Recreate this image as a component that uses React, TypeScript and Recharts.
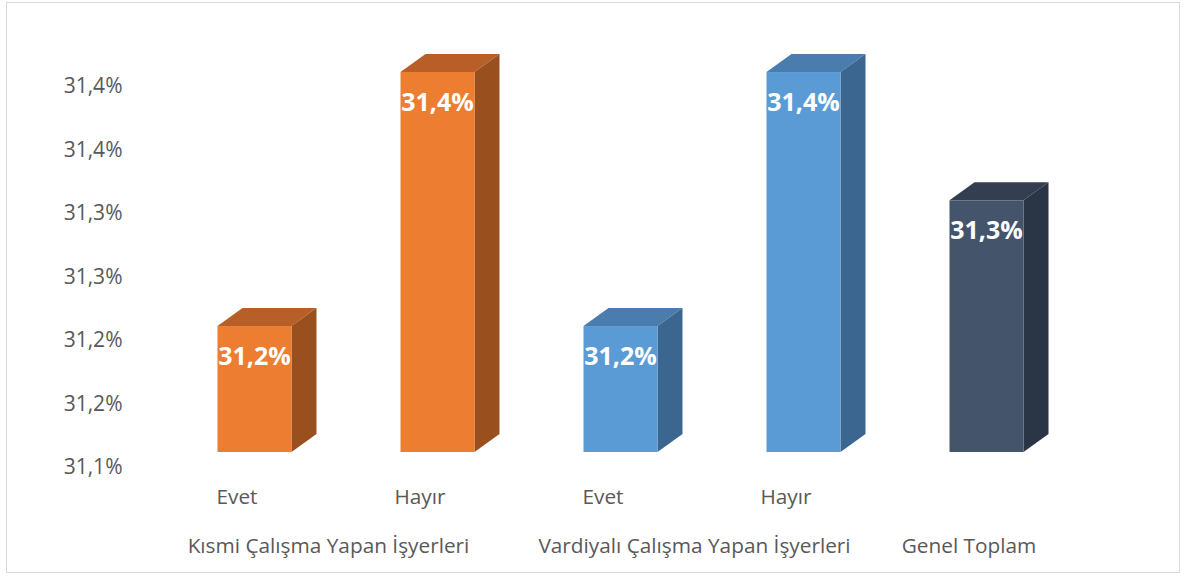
import React from "react";
import { BarChart, Bar, XAxis, YAxis, LabelList } from "recharts";

const categories = ["Evet", "Hayır", "Evet", "Hayır", ""];
const values = [31.211, 31.411, 31.211, 31.411, 31.31];
const groupNames = ["Kısmi Çalışma Yapan İşyerleri", "Vardiyalı Çalışma Yapan İşyerleri", "Genel Toplam"];
const groupSpans = [2, 2, 1];
const yTicks = [31.1, 31.15, 31.2, 31.25, 31.3, 31.35, 31.4];

const data = categories.map((name, i) => ({ name, value: values[i] }));

// face colours: front, top, side
const ORANGE = ["#ED7D31", "#B85F27", "#9A4F1E"];
const BLUE = ["#5B9BD5", "#4A7DAD", "#3B6690"];
const DARK = ["#44546A", "#333F50", "#2A3545"];
const barColors = [ORANGE, ORANGE, BLUE, BLUE, DARK];

const W = 1187;
const H = 578;
const margin = { top: 22.5, right: 126.5, bottom: 0, left: 65.5 };
const Y_AXIS_W = 80;
const X_AXIS_H = 111;
const plotW = W - margin.left - margin.right - Y_AXIS_W;
const band = plotW / categories.length;

// 3D look
const SHIFT = 17;
const DEPTH_X = 25;
const DEPTH_Y = 18;
const FLOOR = 15;

const fmt = (v: number) => {
  const r = Math.round(Math.round(v * 100) / 10) / 10;
  return r.toFixed(1).replace(".", ",") + "%";
};

const groupStarts: number[] = [];
groupSpans.reduce((acc, s) => {
  groupStarts.push(acc);
  return acc + s;
}, 0);

const Box3D = (props: any) => {
  const { x, y, width, height, index } = props;
  const [front, top, side] = barColors[index % barColors.length];
  const fx = x + SHIFT;
  const bottom = y + height - FLOOR;
  const r = fx + width;
  return (
    <g>
      <polygon
        points={`${fx},${y} ${fx + DEPTH_X},${y - DEPTH_Y} ${r + DEPTH_X},${y - DEPTH_Y} ${r},${y}`}
        fill={top}
      />
      <polygon
        points={`${r},${y} ${r + DEPTH_X},${y - DEPTH_Y} ${r + DEPTH_X},${bottom - DEPTH_Y} ${r},${bottom}`}
        fill={side}
      />
      <rect x={fx} y={y} width={width} height={bottom - y} fill={front} />
    </g>
  );
};

const CategoryTick = (props: any) => {
  const { x, y, payload } = props;
  const i = payload.index;
  const gi = groupStarts.indexOf(i);
  const textStyle = { fontFamily: "Open Sans", fontSize: 20.8, fill: "#595959" };
  return (
    <g>
      {categories[i] ? (
        <text x={x} y={y + 30} dy="0.355em" textAnchor="middle" style={textStyle}>
          {categories[i]}
        </text>
      ) : null}
      {gi >= 0 ? (
        <text
          x={x + ((groupSpans[gi] - 1) * band) / 2}
          y={y + 79}
          dy="0.355em"
          textAnchor="middle"
          style={textStyle}
        >
          {groupNames[gi]}
        </text>
      ) : null}
    </g>
  );
};

const ValueLabel = (props: any) => {
  const { x, y, width, value } = props;
  return (
    <text
      x={x + SHIFT + width / 2}
      y={y + 30}
      dy="0.355em"
      textAnchor="middle"
      style={{ fontFamily: "Open Sans", fontSize: 25, fontWeight: 700, fill: "#FFFFFF" }}
    >
      {fmt(value)}
    </text>
  );
};

export default function App() {
  return (
    <div style={{ position: "absolute", left: 0, top: 0, width: W, height: H, background: "#fff" }}>
      <div
        style={{
          position: "absolute",
          left: 6,
          top: 2,
          width: 1174,
          height: 571,
          border: "1px solid #d9d9d9",
          boxSizing: "border-box",
        }}
      />
      <BarChart width={W} height={H} data={data} margin={margin} barSize={74}>
        <XAxis
          dataKey="name"
          axisLine={false}
          tickLine={false}
          tickSize={0}
          tickMargin={0}
          height={X_AXIS_H}
          interval={0}
          tick={<CategoryTick />}
        />
        <YAxis
          width={Y_AXIS_W}
          domain={[31.1, 31.45]}
          ticks={yTicks}
          allowDataOverflow
          axisLine={false}
          tickLine={false}
          tickSize={0}
          tickMargin={23}
          tickFormatter={fmt}
          tick={{ fontFamily: "Open Sans", fontSize: 21, fill: "#595959" }}
        />
        <Bar dataKey="value" shape={<Box3D />} isAnimationActive={false}>
          <LabelList dataKey="value" content={<ValueLabel />} />
        </Bar>
      </BarChart>
    </div>
  );
}
